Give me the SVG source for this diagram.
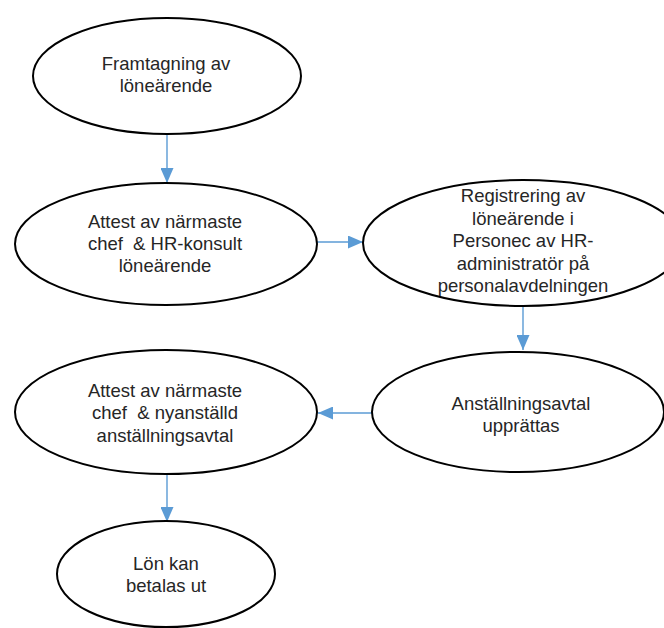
<svg xmlns="http://www.w3.org/2000/svg" width="664" height="628" viewBox="0 0 664 628">
  <defs>
    <marker id="ah" markerUnits="userSpaceOnUse" markerWidth="15" markerHeight="13" refX="15" refY="6.5" orient="auto">
      <path d="M0,0 L15,6.5 L0,13 z" fill="#5b9bd5"/>
    </marker>
    <style>
      .node ellipse { fill: #ffffff; stroke: #000000; stroke-width: 2; }
      .node text { font-family: "Liberation Sans", Arial, sans-serif; font-size: 18.5px; fill: #262626; text-anchor: middle; white-space: pre; }
      .conn line { stroke: #5b9bd5; stroke-width: 1.4; marker-end: url(#ah); }
    </style>
  </defs>
  <rect width="664" height="628" fill="#ffffff"/>
  <g id="connectors" class="conn">
    <line x1="167" y1="134" x2="167" y2="183"/>
    <line x1="317" y1="242" x2="363" y2="242"/>
    <line x1="523" y1="307" x2="523" y2="350"/>
    <line x1="372" y1="413" x2="318" y2="413"/>
    <line x1="167" y1="475" x2="167" y2="522"/>
  </g>
  <g id="node1" class="node">
    <ellipse cx="167" cy="76" rx="134" ry="58"/>
    <text x="166" y="70">Framtagning av</text>
    <text x="166" y="92">löneärende</text>
  </g>
  <g id="node2" class="node">
    <ellipse cx="166" cy="244" rx="151" ry="61"/>
    <text x="165" y="228">Attest av närmaste</text>
    <text x="165" y="250" xml:space="preserve">chef  &amp; HR-konsult</text>
    <text x="165" y="272">löneärende</text>
  </g>
  <g id="node3" class="node">
    <ellipse cx="523" cy="243" rx="160" ry="63"/>
    <text x="523" y="202">Registrering av</text>
    <text x="523" y="224.5">löneärende i</text>
    <text x="523" y="247">Personec av HR-</text>
    <text x="523" y="269.5">administratör på</text>
    <text x="523" y="292">personalavdelningen</text>
  </g>
  <g id="node4" class="node">
    <ellipse cx="518" cy="412" rx="146" ry="60"/>
    <text x="521" y="409.5">Anställningsavtal</text>
    <text x="521" y="431.5">upprättas</text>
  </g>
  <g id="node5" class="node">
    <ellipse cx="166" cy="412" rx="151" ry="62"/>
    <text x="165" y="396.5">Attest av närmaste</text>
    <text x="165" y="419" xml:space="preserve">chef  &amp; nyanställd</text>
    <text x="165" y="441.5">anställningsavtal</text>
  </g>
  <g id="node6" class="node">
    <ellipse cx="166" cy="574" rx="109" ry="53"/>
    <text x="166" y="569.5">Lön kan</text>
    <text x="166" y="592">betalas ut</text>
  </g>
</svg>
